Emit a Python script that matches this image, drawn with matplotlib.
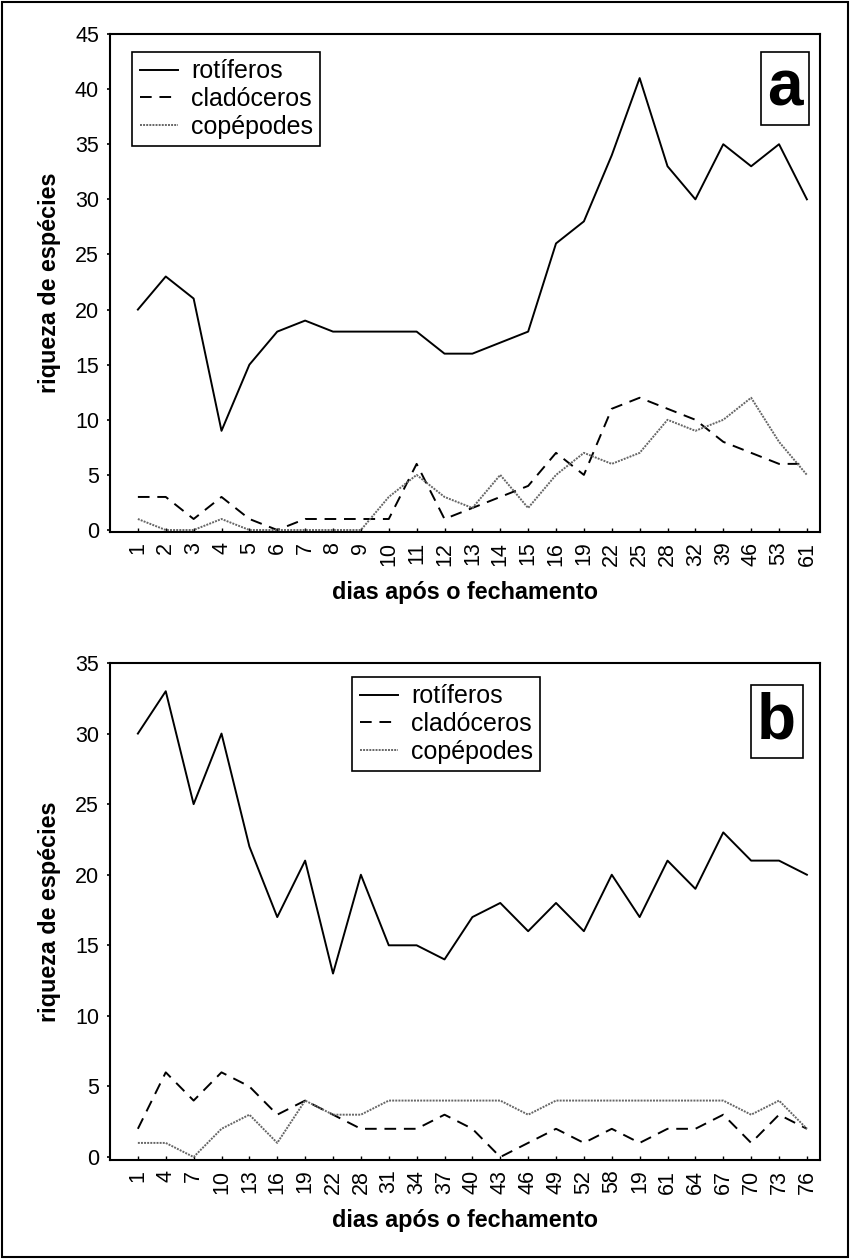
import numpy as np
import matplotlib
matplotlib.use("Agg")
import matplotlib.pyplot as plt
from matplotlib.patches import Rectangle

plt.rcParams['font.family'] = ['Liberation Sans', 'DejaVu Sans']

## ____ dados painel a
dias_a = ["1", "2", "3", "4", "5", "6", "7", "8", "9", "10", "11", "12", "13",
          "14", "15", "16", "19", "22", "25", "28", "32", "39", "46", "53", "61"]
rot_a = [20, 23, 21, 9, 15, 18, 19, 18, 18, 18, 18, 16, 16, 17, 18, 26, 28, 34, 41, 33, 30, 35, 33, 35, 30]
clad_a = [3, 3, 1, 3, 1, 0, 1, 1, 1, 1, 6, 1, 2, 3, 4, 7, 5, 11, 12, 11, 10, 8, 7, 6, 6]
cop_a = [1, 0, 0, 1, 0, 0, 0, 0, 0, 3, 5, 3, 2, 5, 2, 5, 7, 6, 7, 10, 9, 10, 12, 8, 5]

## ____ dados painel b
dias_b = ["1", "4", "7", "10", "13", "16", "19", "22", "28", "31", "34", "37", "40",
          "43", "46", "49", "52", "58", "19", "61", "64", "67", "70", "73", "76"]
rot_b = [30, 33, 25, 30, 22, 17, 21, 13, 20, 15, 15, 14, 17, 18, 16, 18, 16, 20, 17, 21, 19, 23, 21, 21, 20]
clad_b = [2, 6, 4, 6, 5, 3, 4, 3, 2, 2, 2, 3, 2, 0, 1, 2, 1, 2, 1, 2, 2, 3, 1, 3, 2]
cop_b = [1, 1, 0, 2, 3, 1, 4, 3, 3, 4, 4, 4, 4, 4, 3, 4, 4, 4, 4, 4, 4, 4, 3, 4, 2]

W, H = 850, 1259
fig = plt.figure(figsize=(W / 100, H / 100), dpi=100)

# cadre autour de la figure
fig.patches.append(Rectangle((2 / W, 2 / H), 1 - 4 / W, 1 - 4 / H, transform=fig.transFigure,
                             fill=False, edgecolor='black', lw=1.5))


def painel(rect, dias, rot, clad, cop, ymax, ystep, ybot, letra, leg_xy, letra_xy):
    ax = fig.add_axes(rect)
    x = np.arange(len(dias))
    ax.plot(x, rot, color='black', lw=1.4, ls='-', label='rotíferos')
    ax.plot(x, clad, color='black', lw=1.4, ls=(0, (6, 4)), label='cladóceros')
    ax.plot(x, cop, color='#666666', lw=1.4, ls=(0, (1, 0.6)), label='copépodes')

    ax.set_xlim(-1, len(dias) - 0.53)
    ax.set_ylim(ybot, ymax)
    ax.set_yticks(np.arange(0, ymax + 1, ystep))
    ax.set_xticks(x)
    ax.set_xticklabels(dias, rotation=90, fontsize=15.5)
    ax.tick_params(axis='y', labelsize=15.5, direction='out', length=2, width=1.2, pad=6)
    ax.tick_params(axis='x', direction='in', length=3, width=1.0, pad=7)
    for s in ax.spines.values():
        s.set_linewidth(1.5)

    ax.set_xlabel("dias após o fechamento", fontsize=16.8, fontweight='bold', labelpad=11)
    ax.set_ylabel("riqueza de espécies", fontsize=16.8, fontweight='bold', labelpad=10)

    leg = ax.legend(loc='upper left', bbox_to_anchor=leg_xy, fontsize=18, fancybox=False,
                    framealpha=1, edgecolor='black', handlelength=1.55, handletextpad=0.5,
                    labelspacing=0.15, borderpad=0.3, borderaxespad=0)
    leg.get_frame().set_linewidth(1.2)

    ax.text(letra_xy[0], letra_xy[1], letra, transform=ax.transAxes, fontsize=46,
            fontweight='bold', ha='center', va='center',
            bbox=dict(boxstyle='square,pad=0.1', fc='white', ec='black', lw=1.2))
    return ax


painel([110 / W, (H - 532) / H, 710 / W, 498 / H], dias_a, rot_a, clad_a, cop_a,
       45, 5, -0.18, 'a', (0.031, 0.964), (0.951, 0.891))
painel([110 / W, (H - 1160) / H, 710 / W, 497 / H], dias_b, rot_b, clad_b, cop_b,
       35, 5, -0.21, 'b', (0.341, 0.972), (0.939, 0.883))

plt.savefig("out.png", dpi=100)
